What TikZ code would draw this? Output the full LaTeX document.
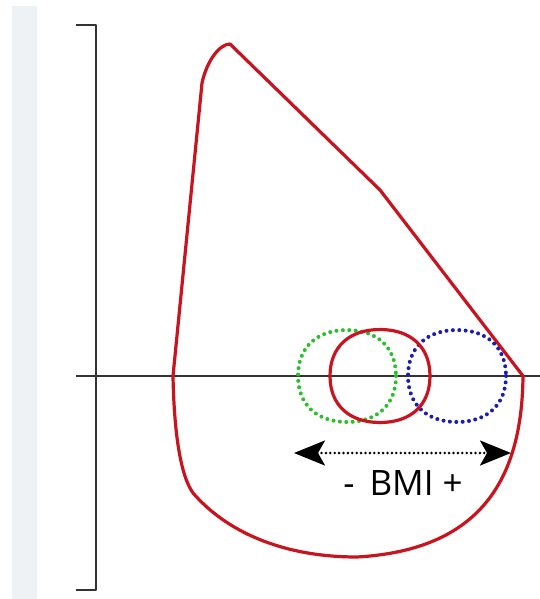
\documentclass[tikz,border=0pt]{standalone}
\usepackage{fontspec}
\setmainfont{Open Sans}
\usetikzlibrary{arrows.meta,calc}
\definecolor{bodyred}{HTML}{C8141E}
\definecolor{lowgreen}{HTML}{2DBE2D}
\definecolor{highblue}{HTML}{1C1CB4}
\definecolor{axisgray}{HTML}{333333}
\definecolor{bandgray}{HTML}{EFF2F4}
\tikzset{>={Stealth[length=31pt,width=25pt,inset=7pt]}}
% rounded, slightly square loop round the origin
\newcommand{\blob}[2]{(#1,0) .. controls (#1,{0.62*#2}) and ({0.62*#1},#2) .. (0,#2)
  .. controls ({-0.62*#1},#2) and (-#1,{0.62*#2}) .. (-#1,0)
  .. controls (-#1,{-0.62*#2}) and ({-0.62*#1},-#2) .. (0,-#2)
  .. controls ({0.62*#1},-#2) and (#1,{-0.62*#2}) .. cycle}

\begin{document}
\begin{tikzpicture}[x=1pt, y=-1pt, line cap=round, line join=round]
  % Frame
  \fill[white] (0,0) rectangle (540,599);
  \useasboundingbox (0,0) rectangle (540,599);
  \fill[bandgray] (12,6) rectangle (37,599);

  % Axes
  \draw[axisgray, line width=2.6pt, line cap=butt] (76,25) -- (96,25) -- (96,590) -- (76,590);
  \draw[axisgray, line width=2.6pt, line cap=butt] (76,376) -- (540,376);

  % Outline points
  \coordinate (Top)   at (230,44);
  \coordinate (Bend)  at (380,190);
  \coordinate (R)     at (523,376);
  \coordinate (Low)   at (357,557);
  \coordinate (Knee)  at (193,493);
  \coordinate (L)     at (173,376);
  \coordinate (Neck)  at (202,83);

  \draw[bodyred, line width=3.2pt]
    (Top) -- (Bend) -- (R)
      .. controls (522,480) and (480,550) .. (Low)
      .. controls (280,557) and (225,530) .. (Knee)
      .. controls (180,475) and (174,430) .. (L)
      -- (Neck)
      .. controls (207,60) and (220,44) .. cycle;

  % Centre loops
  \begin{scope}[shift={(347,376)}]
    \draw[lowgreen, line width=4pt, dash pattern=on 0pt off 6.4pt] \blob{49}{46};
  \end{scope}
  \begin{scope}[shift={(457,376)}]
    \draw[highblue, line width=4pt, dash pattern=on 0pt off 6.4pt] \blob{49}{46};
  \end{scope}
  \begin{scope}[shift={(380,376)}]
    \draw[bodyred, line width=3.2pt] \blob{50}{46.5};
  \end{scope}

  % BMI arrow
  \coordinate (minus) at (294,453);
  \coordinate (plus)  at (511,453);
  \draw[<->, line width=2.8pt, dash pattern=on 0pt off 4.4pt] (minus) -- (plus);
  \node[font=\fontsize{35}{40}\selectfont, inner sep=0pt] (bmi) at (403,483) {-\, BMI +};
\end{tikzpicture}
\end{document}
